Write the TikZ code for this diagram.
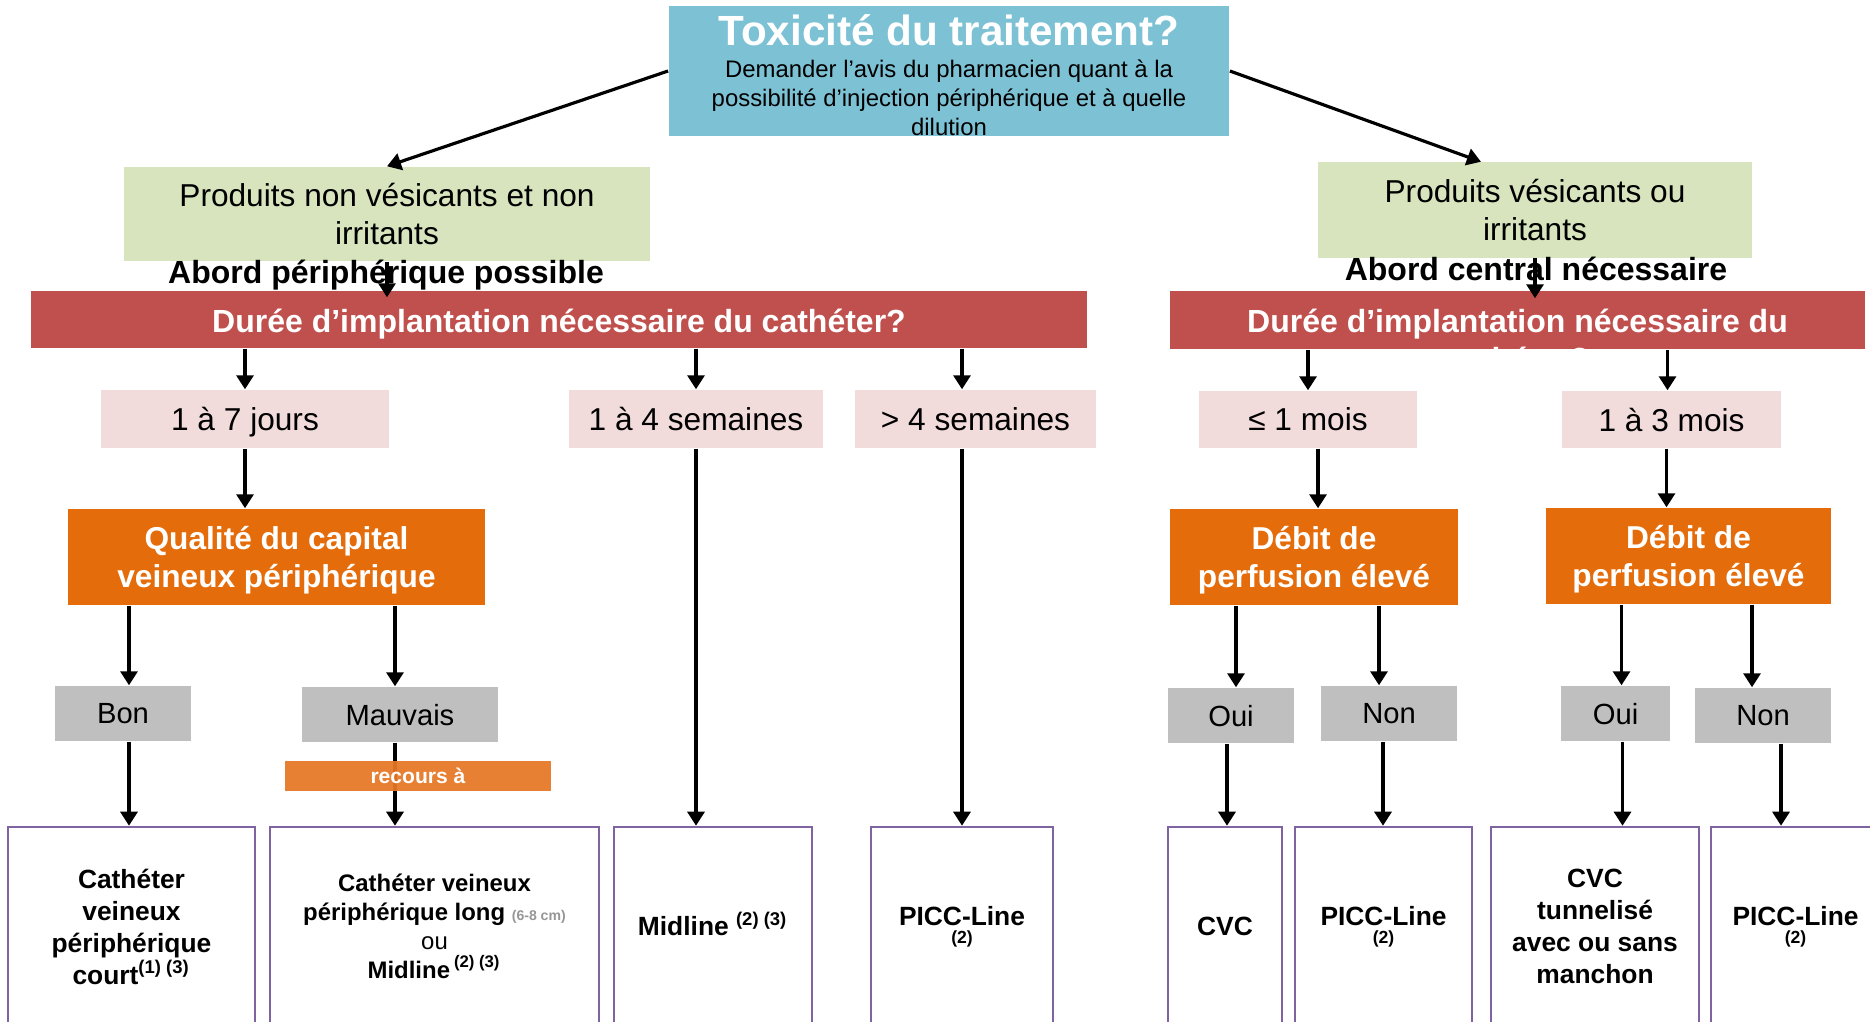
\documentclass[tikz,border=0pt]{standalone}
\usepackage{fontspec}
\setmainfont{Liberation Sans}
\usetikzlibrary{arrows.meta}
\definecolor{toxic_blue}{RGB}{125,193,212}
\definecolor{pale_green}{RGB}{215,228,189}
\definecolor{brick_red}{RGB}{192,80,77}
\definecolor{pale_pink}{RGB}{242,220,219}
\definecolor{dark_orange}{RGB}{228,108,10}
\definecolor{light_orange}{RGB}{229,120,38}
\definecolor{mid_grey}{RGB}{191,191,191}
\definecolor{purple_line}{RGB}{128,100,162}
\definecolor{note_grey}{RGB}{150,150,150}
\newcommand\fsz[2]{\fontsize{#1}{#2}\selectfont}

\begin{document}
\begin{tikzpicture}[x=0.01cm,y=-0.01cm,
	box/.style={rectangle,inner sep=0pt,align=center},
	toxbox/.style={box,fill=toxic_blue},
	prodbox/.style={box,fill=pale_green,font=\fsz{9}{10.7}},
	dureebar/.style={box,fill=brick_red},
	bartext/.style={box,text=white,font=\fsz{9.1}{11}\bfseries},
	dureebox/.style={box,fill=pale_pink,font=\fsz{9}{11},text depth=0pt},
	critbox/.style={box,fill=dark_orange,text=white,font=\fsz{9}{10.8}\bfseries,text depth=0pt},
	choixbox/.style={box,fill=mid_grey,font=\fsz{8.3}{10},text depth=0pt},
	catbox/.style={box,draw=purple_line,line width=0.7pt,fill=white,font=\fsz{7.5}{9.1}\bfseries},
	arr/.style={black,line width=0.9pt,-{Triangle[length=1.4mm,width=1.7mm]}}]
	\useasboundingbox (0,0) rectangle (1870,1022);
	\clip (0,0) rectangle (1870,1022);

	% question du haut
	\node[toxbox,minimum width=5.6cm,minimum height=1.3cm] (tox) at (949,71) {};
	\node[box,text=white,font=\fsz{12}{14}\bfseries] (titre) at (949,30) {Toxicité du traitement?};
	\node[box,font=\fsz{6.8}{8.2}] (avis) at (949,98) {Demander l’avis du pharmacien quant à la\\possibilité d’injection périphérique et à quelle\\dilution};

	% produits
	\node[prodbox,minimum width=5.26cm,minimum height=0.94cm] (gL) at (387,214) {Produits non vésicants et non\\irritants};
	\node[prodbox,minimum width=4.34cm,minimum height=0.95cm] (gR) at (1535,210) {Produits vésicants ou\\irritants};
	\node[box,font=\fsz{9.1}{11}\bfseries,text depth=0pt] (abL) at (386,272) {Abord périphérique possible};
	\node[box,font=\fsz{9.1}{11}\bfseries] (abR) at (1536,269) {Abord central nécessaire};

	% durée
	\node[dureebar,minimum width=10.56cm,minimum height=0.57cm] (rL) at (559,319.5) {};
	\node[bartext,text depth=0pt] (rLt) at (559,321) {Durée d’implantation nécessaire du cathéter?};
	\node[dureebar,minimum width=6.95cm,minimum height=0.58cm] (rR) at (1517.5,320) {};
	\node[bartext] (rRt) at (1517.5,340) {Durée d’implantation nécessaire du\\cathéter?};

	\node[dureebox,minimum width=2.88cm,minimum height=0.58cm] (p1) at (245,419) {1 à 7 jours};
	\node[dureebox,minimum width=2.54cm,minimum height=0.58cm] (p2) at (696,419) {1 à 4 semaines};
	\node[dureebox,minimum width=2.41cm,minimum height=0.58cm] (p3) at (975.5,419) {> 4 semaines};
	\node[dureebox,minimum width=2.18cm,minimum height=0.57cm] (p4) at (1308,419.5) {≤ 1 mois};
	\node[dureebox,minimum width=2.19cm,minimum height=0.57cm] (p5) at (1671.5,419.5) {1 à 3 mois};

	% criteres
	\node[critbox,minimum width=4.17cm,minimum height=0.96cm] (oL) at (276.5,557) {Qualité du capital\\veineux périphérique};
	\node[critbox,minimum width=2.88cm,minimum height=0.96cm] (oR1) at (1314,557) {Débit de\\perfusion élevé};
	\node[critbox,minimum width=2.85cm,minimum height=0.96cm] (oR2) at (1688.5,556) {Débit de\\perfusion élevé};

	\node[choixbox,minimum width=1.36cm,minimum height=0.55cm] (gb) at (123,713.5) {Bon};
	\node[choixbox,minimum width=1.96cm,minimum height=0.55cm] (gm) at (400,714.5) {Mauvais};
	\node[choixbox,minimum width=1.26cm,minimum height=0.55cm] (g1) at (1231,715.5) {Oui};
	\node[choixbox,minimum width=1.36cm,minimum height=0.55cm] (g2) at (1389,713.5) {Non};
	\node[choixbox,minimum width=1.09cm,minimum height=0.55cm] (g3) at (1615.5,713.5) {Oui};
	\node[choixbox,minimum width=1.36cm,minimum height=0.55cm] (g4) at (1763,715.5) {Non};

	% catheters
	\node[catbox,minimum width=2.47cm,minimum height=1.99cm] (b1) at (131.5,926.5) {Cathéter\\veineux\\périphérique\\court\textsuperscript{(1) (3)}};
	\node[catbox,minimum width=3.29cm,minimum height=1.99cm,font=\fsz{6.8}{8.2}\bfseries] (b2) at (434.5,926.5) {Cathéter veineux\\périphérique long {\color{note_grey}\fsz{4}{5}(6-8 cm)}\\{\mdseries ou}\\Midline\,\textsuperscript{(2) (3)}};
	\node[catbox,minimum width=1.98cm,minimum height=1.99cm,text height=5.4pt,text depth=0pt] (b3) at (713,926.5) {Midline \textsuperscript{(2) (3)}};
	\node[catbox,minimum width=1.82cm,minimum height=1.99cm] (b4) at (962,926.5) {PICC-Line\\[-4pt]{\fsz{5}{5}(2)}};
	\node[catbox,minimum width=1.14cm,minimum height=1.99cm] (b5) at (1225,926.5) {CVC};
	\node[catbox,minimum width=1.77cm,minimum height=1.99cm] (b6) at (1383.5,926.5) {PICC-Line\\[-4pt]{\fsz{5}{5}(2)}};
	\node[catbox,minimum width=2.08cm,minimum height=1.99cm] (b7) at (1595,926.5) {CVC\\tunnelisé\\avec ou sans\\manchon};
	\node[catbox,minimum width=1.69cm,minimum height=1.99cm] (b8) at (1795.5,926.5) {PICC-Line\\[-4pt]{\fsz{5}{5}(2)}};

	% fleches
	\draw[arr] (tox.west) -- (gL.north);
	\draw[arr] (tox.east) -- ([xshift=-0.54cm]gR.north);
	\draw[arr] (gL.south) -- ([yshift=-0.07cm]gL.south |- rL.north);
	\draw[arr] (gR.south) -- ([yshift=-0.08cm]gR.south |- rR.north);
	\foreach \a/\b/\s in {p1/rL/0,p2/rL/0,p4/rR/0,p5/rR/-0.04}
		\draw[arr] ([xshift=\s cm]\a.north |- \b.south) -- ([xshift=\s cm]\a.north);
	\draw[arr] (b4.north |- rL.south) -- (b4.north |- p3.north);
	\draw[arr] (b4.north |- p3.south) -- (b4.north);
	\foreach \a/\b/\s in {p1/oL/0,p2/b3/0,p4/oR1/0.1,p5/oR2/-0.05,gb/b1/0.06,gm/b2/-0.05,g1/b5/-0.04,g2/b6/-0.06,g3/b7/0.07,g4/b8/0.18}
		\draw[arr] ([xshift=\s cm]\a.south) -- ([xshift=\s cm]\a.south |- \b.north);
	\foreach \a/\b/\s in {gb/oL/0.06,gm/oL/-0.05,g1/oR1/0.05,g2/oR1/-0.1,g3/oR2/0.06,g4/oR2/-0.11}
		\draw[arr] ([xshift=\s cm]\a.north |- \b.south) -- ([xshift=\s cm]\a.north);

	\node[box,fill=light_orange,fill opacity=0.94,text opacity=1,text=white,font=\fsz{6}{7}\bfseries,minimum width=2.66cm,minimum height=0.3cm] (rec) at (418,776) {recours à};
\end{tikzpicture}
\end{document}
